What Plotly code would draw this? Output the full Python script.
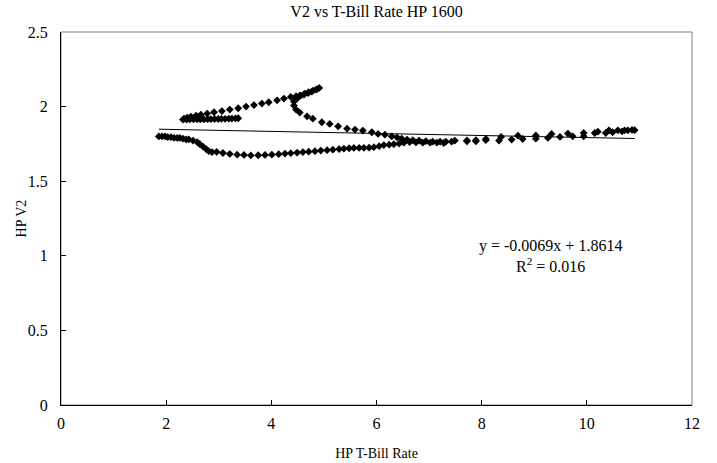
import plotly.graph_objects as go

# HP-filtered T-Bill rate (x) vs HP-filtered V2 (y), in path order
tbill = [
    1.86, 1.92, 1.98, 2.03, 2.09, 2.15, 2.21, 2.26, 2.32, 2.38, 2.43,
    2.51, 2.59, 2.64, 2.70, 2.76, 2.81, 2.87,
    2.96, 3.08, 3.21, 3.35, 3.48, 3.61, 3.75, 3.88, 4.01, 4.14, 4.26, 4.37, 4.49,
    4.60, 4.71, 4.83, 4.94, 5.06, 5.17, 5.29, 5.38, 5.48, 5.57, 5.67, 5.76, 5.86,
    5.95, 6.05, 6.14, 6.24, 6.33, 6.43, 6.52,
    6.63, 6.75, 6.88, 7.02, 7.15, 7.28, 7.43,
    7.72, 7.89, 8.08, 8.33, 8.57, 8.78, 9.03, 9.26, 9.49, 9.73, 9.94, 10.15, 10.36,
    10.49, 10.67, 10.78, 10.91,
    10.86, 10.72, 10.59, 10.42, 10.21, 9.94, 9.64, 9.33, 9.03, 8.69, 8.37, 8.08,
    7.89, 7.72, 7.49,
    7.32, 7.21, 7.07, 6.94, 6.81, 6.69, 6.58, 6.48, 6.39, 6.29, 6.16, 6.03, 5.91,
    5.74, 5.59, 5.44, 5.27, 5.11, 4.96, 4.79, 4.68, 4.54, 4.47, 4.43, 4.43, 4.49,
    4.56, 4.64, 4.71, 4.79, 4.87, 4.91,
    4.85, 4.77, 4.70, 4.62, 4.54, 4.47, 4.37, 4.24, 4.11, 3.95, 3.82,
    3.67, 3.52, 3.37, 3.21, 3.06, 2.91, 2.78, 2.66, 2.57, 2.47, 2.40, 2.34,
    2.32, 2.39, 2.45, 2.52, 2.59, 2.65, 2.72, 2.79, 2.85, 2.92, 2.99, 3.05, 3.12,
    3.19, 3.25, 3.32, 3.37,
]
v2 = [
    1.800, 1.800, 1.800, 1.795, 1.795, 1.790, 1.790, 1.790, 1.785, 1.780, 1.780,
    1.772, 1.762, 1.748, 1.732, 1.715, 1.701, 1.695,
    1.696, 1.689, 1.683, 1.678, 1.676, 1.673, 1.674, 1.676, 1.678, 1.681, 1.685, 1.688, 1.691,
    1.695, 1.698, 1.701, 1.705, 1.708, 1.711, 1.715, 1.718, 1.721, 1.723, 1.724, 1.724, 1.725,
    1.728, 1.735, 1.742, 1.745, 1.748, 1.752, 1.758,
    1.762, 1.760, 1.758, 1.758, 1.758, 1.756, 1.765,
    1.767, 1.767, 1.775, 1.772, 1.779, 1.783, 1.785, 1.790, 1.797, 1.801, 1.801, 1.823, 1.823,
    1.828, 1.834, 1.841, 1.842,
    1.844, 1.841, 1.841, 1.841, 1.832, 1.823, 1.819, 1.817, 1.807, 1.805, 1.797, 1.783,
    1.775, 1.773, 1.772,
    1.765, 1.765, 1.765, 1.768, 1.772, 1.775, 1.779, 1.785, 1.794, 1.801, 1.812, 1.817, 1.828,
    1.839, 1.846, 1.852, 1.868, 1.884, 1.895, 1.919, 1.935, 1.960, 1.980, 2.007, 2.034, 2.054,
    2.074, 2.087, 2.097, 2.107, 2.117, 2.125,
    2.114, 2.101, 2.091, 2.081, 2.074, 2.070, 2.065, 2.054, 2.042, 2.029, 2.020,
    2.010, 2.000, 1.989, 1.980, 1.970, 1.962, 1.953, 1.946, 1.940, 1.933, 1.926, 1.919,
    1.913, 1.913, 1.914, 1.914, 1.915, 1.915, 1.915, 1.916, 1.916, 1.917, 1.917, 1.918, 1.918,
    1.919, 1.920, 1.921, 1.922,
]

# Linear trendline as reported on the chart
slope = -0.0069
intercept = 1.8614
r_squared = 0.016

x_ticks = [0, 2, 4, 6, 8, 10, 12]
y_ticks = [0, 0.5, 1, 1.5, 2, 2.5]

FONT = "Liberation Serif, Times New Roman, serif"

fig = go.Figure()
fig.add_trace(go.Scatter(
    x=tbill, y=v2, mode="markers",
    marker=dict(symbol="diamond", size=6, color="#000000", line=dict(width=0)),
    showlegend=False, hoverinfo="x+y",
))
x_line = [min(tbill), max(tbill)]
fig.add_trace(go.Scatter(
    x=x_line, y=[slope * xv + intercept for xv in x_line], mode="lines",
    line=dict(color="#000000", width=1), showlegend=False, hoverinfo="skip",
))

fig.add_annotation(
    x=9.3, y=1.0, xref="x", yref="y",
    text=f"y = {slope}x + {intercept}<br>R<sup>2</sup> = {r_squared}",
    showarrow=False, align="center",
    font=dict(family=FONT, size=16, color="#000000"),
)

# y-axis title placed as a rotated annotation next to the tick labels
fig.add_annotation(
    x=-0.062, y=0.5, xref="paper", yref="paper", text="HP V2",
    textangle=-90, showarrow=False, xanchor="center", yanchor="middle",
    font=dict(family=FONT, size=14, color="#000000"),
)

fig.add_shape(type="rect", xref="paper", yref="paper", x0=0, y0=0, x1=1, y1=1,
              line=dict(color="#808080", width=1), layer="below")

fig.update_layout(
    width=717, height=463,
    margin=dict(l=61, r=25, t=32, b=58),
    paper_bgcolor="#ffffff", plot_bgcolor="#ffffff",
    font=dict(family=FONT, size=15, color="#000000"),
    title=dict(text="V2 vs T-Bill Rate HP 1600", x=0.5, xref="paper", y=0.975,
               yanchor="middle", xanchor="center",
               font=dict(family=FONT, size=16, color="#000000")),
    xaxis=dict(range=[0, 12], tickvals=x_ticks, showgrid=False, zeroline=False,
               showline=True, linecolor="#000000", linewidth=1, automargin=False,
               ticks="inside", ticklen=5, tickcolor="#000000",
               ticklabelstandoff=4,
               title=dict(text="HP T-Bill Rate", font=dict(family=FONT, size=14), standoff=16),
               tickfont=dict(family=FONT, size=16)),
    yaxis=dict(range=[0, 2.5], tickvals=y_ticks, showgrid=False, zeroline=False,
               showline=True, linecolor="#000000", linewidth=1, automargin=False,
               ticks="inside", ticklen=5, tickcolor="#000000",
               ticklabelstandoff=9,
               tickfont=dict(family=FONT, size=16)),
)

fig.write_html("out.html")
